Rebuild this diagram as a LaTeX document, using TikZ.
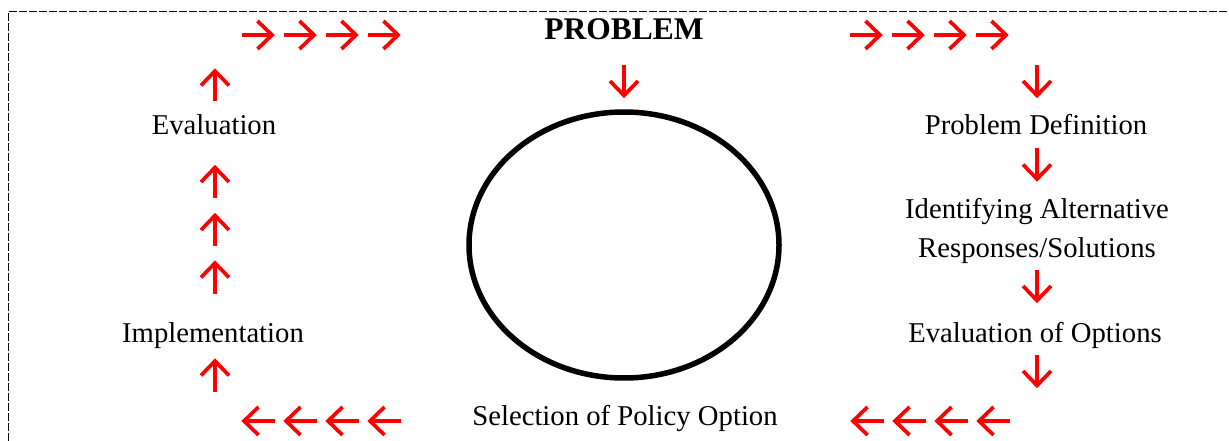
\documentclass[tikz,border=0pt]{standalone}
\usepackage{fontspec}
\setmainfont{Liberation Serif}
\usetikzlibrary{shapes.geometric}

\tikzset{
  stageline/.style={font=\fontsize{28.7}{34}\selectfont, inner sep=0pt, anchor=base},
  titleline/.style={font=\fontsize{31.5}{36}\selectfont\bfseries, inner sep=0pt, anchor=base},
  flowline/.style={draw=red, line width=3.7pt, line cap=butt, line join=miter},
  % open-headed arrow, drawn pointing right and centred on the origin
  flowarrow/.pic={
    \path[flowline] (-16.5,0) -- (14,0);
    \path[flowline] (-0.5,-14) -- (14,0) -- (-0.5,14);
  },
  rightarrow/.pic={\pic {flowarrow};},
  leftarrow/.pic={\pic[rotate=180] {flowarrow};},
  uparrow/.pic={\pic[rotate=90] {flowarrow};},
  downarrow/.pic={\pic[rotate=-90] {flowarrow};}
}

\begin{document}
\begin{tikzpicture}[x=1pt, y=-1pt]
  \useasboundingbox (0,0) rectangle (1229,441);

  % dashed frame
  \draw[line width=0.9pt, dash pattern=on 8pt off 2pt] (8.5,441) -- (8.5,11.5) -- (1229,11.5);

  % central cycle
  \node[ellipse, draw, line width=5.5pt, inner sep=0pt,
        minimum width=310, minimum height=266] (cycle) at (624,245) {};

  % labels
  \node[titleline] (problem) at (624,40) {PROBLEM};
  \node[stageline] (evaluation) at (214,135) {Evaluation};
  \node[stageline] (definition) at (1036,135) {Problem Definition};
  \node[stageline] (identify) at (1037,218) {Identifying Alternative};
  \node[stageline] (responses) at (1037,257) {Responses/Solutions};
  \node[stageline] (options) at (1035,342) {Evaluation of Options};
  \node[stageline] (implementation) at (213,342) {Implementation};
  \node[stageline] (selection) at (625,425) {Selection of Policy Option};

  % top row, pointing right
  \foreach \x in {258,300,342,384} {\pic at (\x,35) {rightarrow};}
  \foreach \x in {866,908,950,992} {\pic at (\x,35) {rightarrow};}

  % from the problem into the cycle
  \pic at (624,81.5) {downarrow};

  % right column, pointing down
  \foreach \y in {81.5,165,286.5,371.5} {\pic at (1037,\y) {downarrow};}

  % bottom row, pointing left
  \foreach \x in {867,909,951,993} {\pic at (\x,421) {leftarrow};}
  \foreach \x in {258,300,342,384} {\pic at (\x,421) {leftarrow};}

  % left column, pointing up
  \foreach \y in {85,181.5,229.5,277,375} {\pic at (215,\y) {uparrow};}
\end{tikzpicture}
\end{document}
